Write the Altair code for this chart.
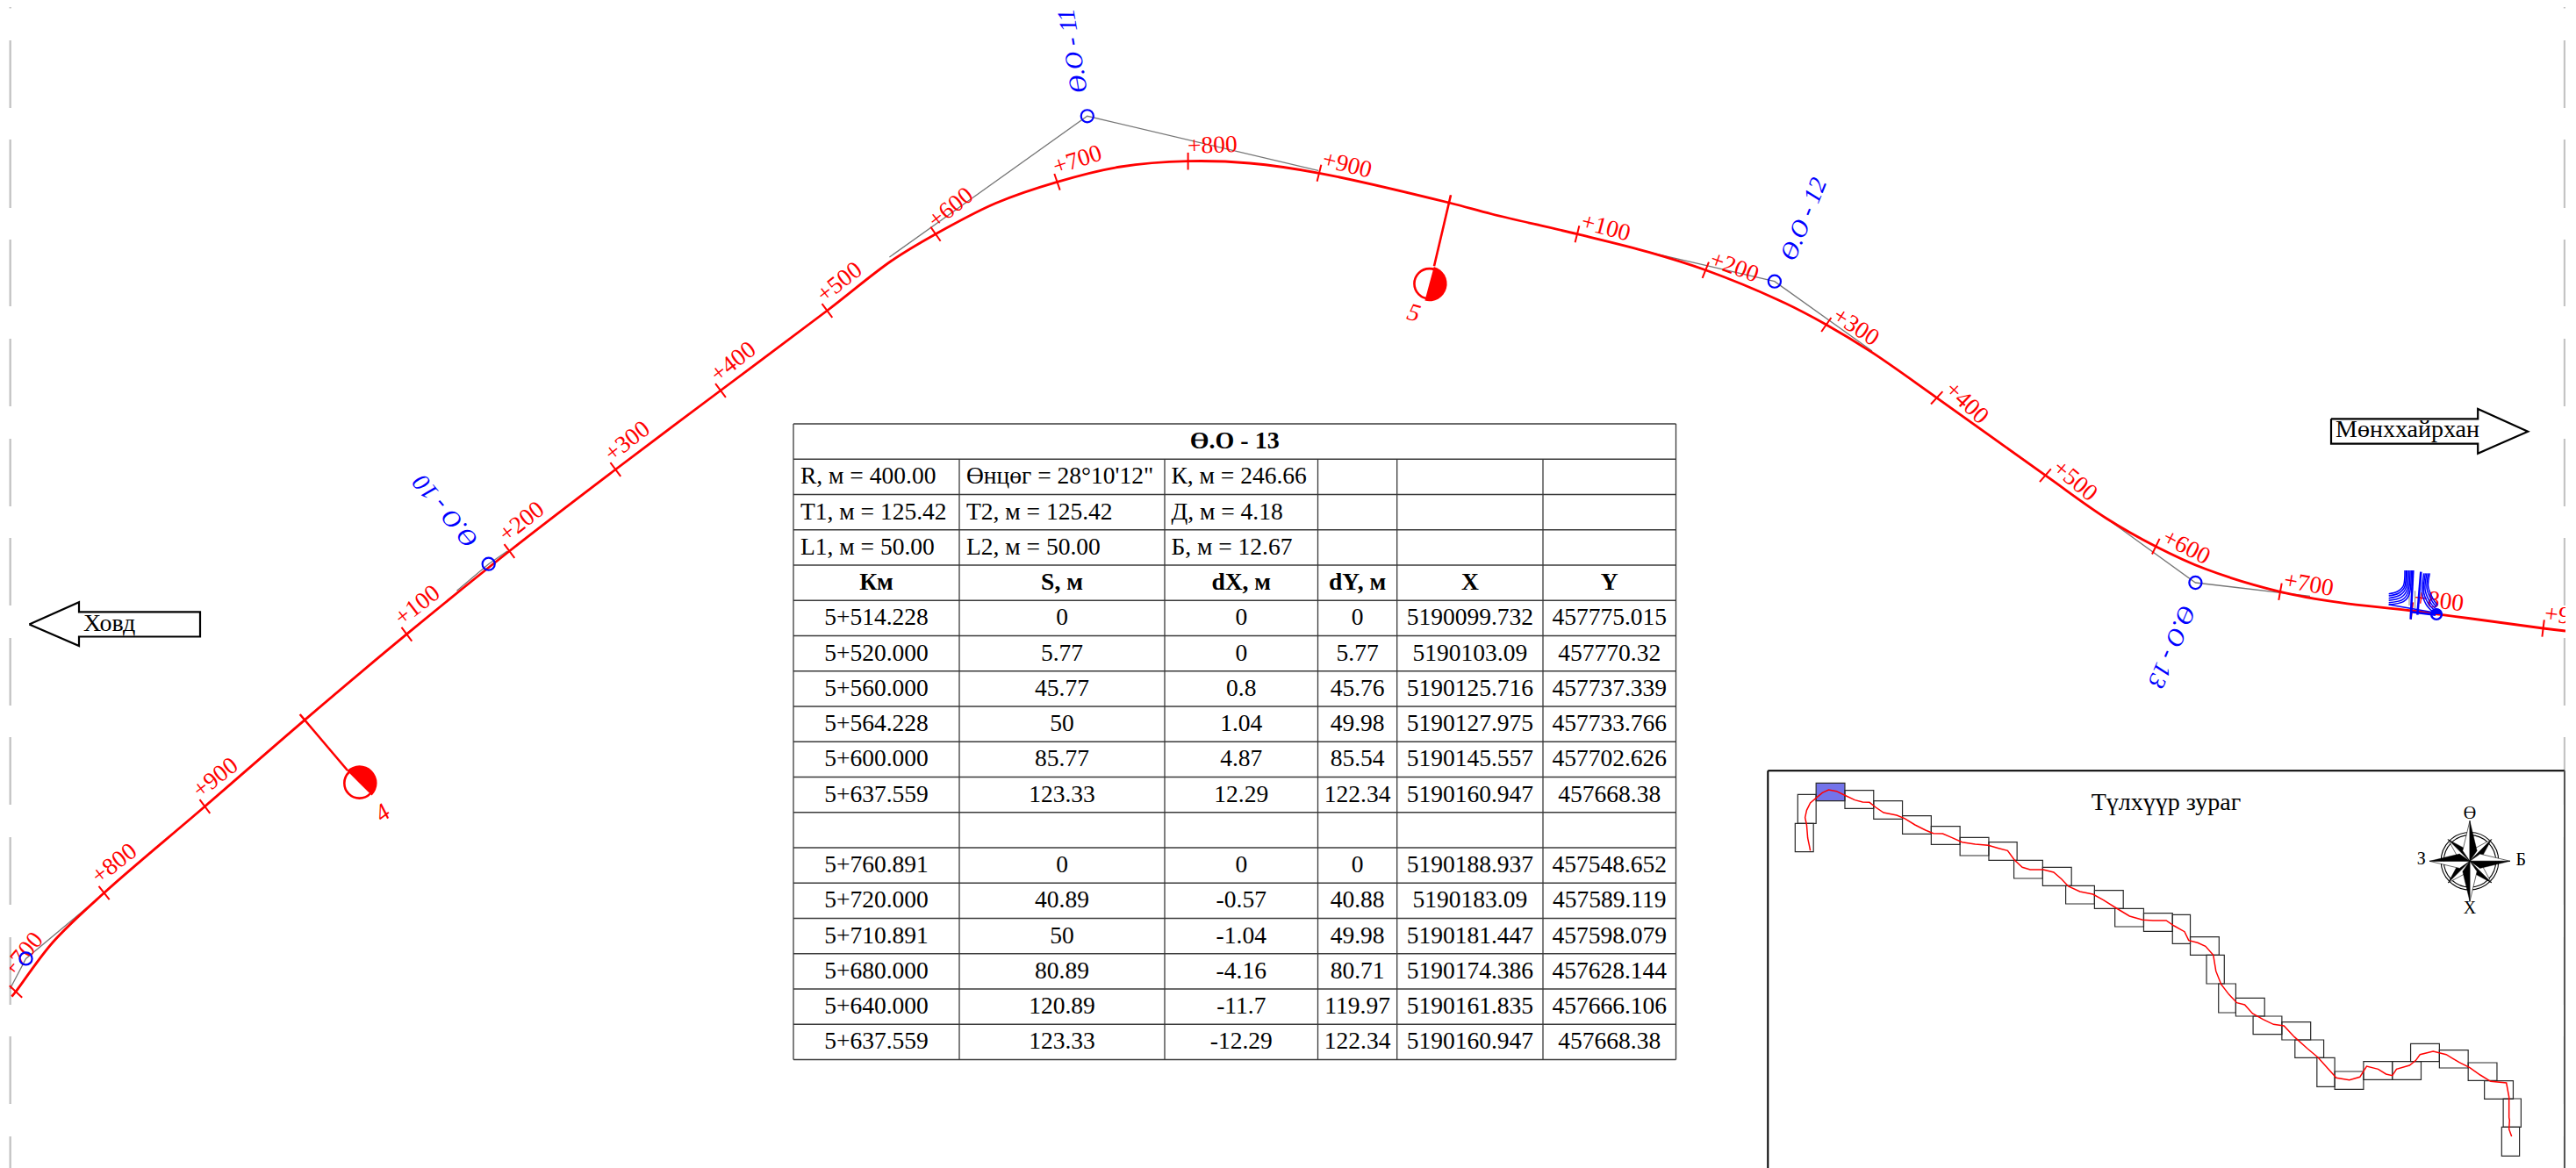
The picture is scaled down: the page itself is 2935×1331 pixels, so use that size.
import altair as alt
import numpy as np
import pandas as pd

FONT = "Liberation Serif"
RED = "#ff0000"
BLUE = "#0000ff"
GRID = "#3a3a3a"

# ---------- main road alignment (reference pixel frame) ----------
road_x = [13.4, 18, 60, 118.6, 233.4, 347, 463.4, 580.4, 701.3, 821, 942.4, 1016, 1066, 1134, 1204.5,
          1276.8, 1353.6, 1424, 1503, 1651, 1700, 1797, 1878.6, 1943.3, 2025.9, 2080.8, 2133, 2206.7,
          2330.4, 2400, 2456.3, 2512.6, 2598, 2666, 2748, 2897.6, 2923]
road_y = [1135.6, 1130, 1074, 1017.5, 919, 820.6, 722.7, 628, 535, 445, 354, 297, 266.7, 231.7, 207.3,
          190, 183.7, 186, 197.3, 231, 244, 266.7, 287.3, 307.7, 341.7, 370, 401.7, 453.3,
          541.7, 590.7, 622.7, 648.3, 674.3, 686.7, 696, 716, 719]

# stationing ticks: centre and road bearing
tick_x = [18, 118.6, 233.4, 463.4, 580.4, 701.3, 821, 942.4, 1066, 1204.5, 1353.6, 1503,
          1797, 1943.3, 2080.8, 2206.7, 2330.4, 2456.3, 2598, 2748, 2897.6]
tick_y = [1130, 1017.5, 919, 722.7, 628, 535, 445, 354, 266.7, 207.3, 183.7, 197.3,
          266.7, 307.7, 370, 453.3, 541.7, 622.7, 674.3, 696, 716]
tick_bearing = [-47, -38, -37, -37, -37, -37, -37, -37, -35, -19, 0, 14,
                14, 22, 35, 43, 41, 26, 10, 7, 7]

label_text = ["+700", "+800", "+900", "+100", "+200", "+300", "+400", "+500", "+600", "+700", "+800", "+900",
              "+100", "+200", "+300", "+400", "+500", "+600", "+700", "+800", "+900"]
label_x = [26, 130.5, 245.7, 475.8, 594.6, 715, 835.7, 956.7, 1083.5, 1227.7, 1381.3, 1534.8,
           1829.5, 1975.9, 2114.3, 2240.6, 2364, 2490.8, 2630.4, 2778.8, 2927.5]
label_y = [1088, 984.5, 886.7, 690.3, 595, 503.3, 412.7, 322, 237.3, 182.7, 166, 188.3,
           259.7, 304.7, 372.7, 459.3, 548, 623.7, 666.3, 685, 703]
label_angle = [310, 322, 322, 322, 322, 322, 322, 322, 321, 342, 358, 14,
               15, 20, 33, 43, 40, 27, 10, 7, 7]

# tangents through the PI points
tangent_id = [0, 0, 0, 1, 1, 1, 2, 2, 2, 3, 3, 3, 4, 4, 4]
tangent_x = [11.5, 29.5, 99.5, 520.5, 556.7, 578, 1013.4, 1238.8, 1502, 1878.6, 2021.9, 2133, 2400, 2501.4, 2632]
tangent_y = [1126.8, 1092.4, 1034, 673.3, 642.7, 628, 293, 132.3, 194.3, 287.3, 320.7, 400, 590.7, 664, 679.3]

pi_x = [29.5, 556.7, 1238.8, 2021.9, 2501.4]
pi_y = [1092.4, 642.7, 132.3, 320.7, 664]
pi_text = ["Ө.О - 10", "Ө.О - 11", "Ө.О - 12", "Ө.О - 13"]
pi_text_x = [508, 1223, 2055.8, 2473.4]
pi_text_y = [581.7, 58, 250, 736.7]
pi_text_angle = [230, 260.5, 292, 113]

# cross sections 4 and 5
sec_top_x = [341.7, 1653]
sec_top_y = [814, 222.3]
sec_end_x = [396, 1634]
sec_end_y = [878, 303.3]
sec_cx = [409.5, 1628.6]
sec_cy = [892.4, 323.3]
sec_from = [315, 15]
sec_to = [495, 195]
sec_lab_x = [436.3, 1610.7]
sec_lab_y = [927.2, 357.3]
sec_lab_a = [323, 15]

# direction arrows
arrow_l_x = [33.3, 90, 90, 228, 228, 90, 90, 33.3]
arrow_l_y = [711.4, 686.3, 697.3, 697.3, 725.5, 725.5, 736, 711.4]
arrow_r_x = [2656, 2823.2, 2823.2, 2880.2, 2823.2, 2823.2, 2656, 2656]
arrow_r_y = [477.3, 477.3, 466, 491.7, 516.7, 505.7, 505.7, 477.3]

# dashed sheet borders
dash_top = [8, 46, 159, 273, 386, 500, 613, 727, 840, 954, 1068, 1181, 1295]
dash_bot = [9.5, 123, 237, 349, 463, 577, 690, 804, 917, 1031, 1145, 1258, 1331]
border_x = [11.7, 2922]

# ---------- table ----------
col_x = [904, 1093, 1327, 1501.5, 1591.7, 1758, 1909.5]
row_y = [483 + 40.25 * i for i in range(19)]
title = "Ө.О - 13"
param_rows = [["R, м = 400.00", "Өнцөг = 28°10'12\"", "К, м = 246.66"],
              ["T1, м = 125.42", "T2, м = 125.42", "Д, м = 4.18"],
              ["L1, м = 50.00", "L2, м = 50.00", "Б, м = 12.67"]]
header = ["Км", "S, м", "dX, м", "dY, м", "X", "Y"]
km = ["5+514.228", "5+520.000", "5+560.000", "5+564.228", "5+600.000", "5+637.559", "",
      "5+760.891", "5+720.000", "5+710.891", "5+680.000", "5+640.000", "5+637.559"]
s_m = ["0", "5.77", "45.77", "50", "85.77", "123.33", "", "0", "40.89", "50", "80.89", "120.89", "123.33"]
dx_m = ["0", "0", "0.8", "1.04", "4.87", "12.29", "", "0", "-0.57", "-1.04", "-4.16", "-11.7", "-12.29"]
dy_m = ["0", "5.77", "45.76", "49.98", "85.54", "122.34", "", "0", "40.88", "49.98", "80.71", "119.97", "122.34"]
x_c = ["5190099.732", "5190103.09", "5190125.716", "5190127.975", "5190145.557", "5190160.947", "",
       "5190188.937", "5190183.09", "5190181.447", "5190174.386", "5190161.835", "5190160.947"]
y_c = ["457775.015", "457770.32", "457737.339", "457733.766", "457702.626", "457668.38", "",
       "457548.652", "457589.119", "457598.079", "457628.144", "457666.106", "457668.38"]

# ---------- key map (inset) in the crop frame of the zoom at (2000,860) ----------
inset_box = [2014.3, 878.3, 2922]
sheet_x1 = [76, 81, 116, 171, 226, 281, 336, 391, 446, 494, 549, 593, 648, 687, 742, 797, 831, 862, 885, 918, 951,
            1006, 1031, 1073, 1107, 1162, 1217, 1252, 1307, 1362, 1393, 1429, 1426]
sheet_y1 = [235, 136, 97, 122, 158, 209, 245, 283, 299, 361, 385, 448, 464, 526, 542, 547, 623, 685, 783, 832, 894,
            914, 975, 1036, 1083, 1049, 1049, 988, 1010, 1053, 1115, 1176, 1273]
sheet_x2 = [111, 116, 171, 226, 281, 336, 391, 446, 500, 549, 604, 648, 703, 742, 797, 831, 886, 896, 918, 973, 1006,
            1061, 1086, 1107, 1162, 1217, 1272, 1307, 1362, 1417, 1448, 1463, 1460]
sheet_y2 = [332, 235, 158, 184, 220, 271, 307, 345, 361, 423, 448, 510, 526, 588, 604, 646, 685, 783, 882, 894, 956,
            975, 1036, 1135, 1144, 1111, 1111, 1049, 1071, 1114, 1177, 1273, 1372]
key_x = [105, 103, 100, 98, 95, 98, 105, 118, 128, 140, 155, 170, 190, 205, 218, 230, 245, 270, 285, 305, 325, 340,
         358, 375, 395, 420, 445, 465, 482, 495, 510, 525, 550, 570, 585, 598, 620, 645, 665, 690, 715, 740, 760, 785,
         800, 820, 828, 845, 860, 875, 880, 890, 905, 920, 935, 950, 970, 990, 1010, 1030, 1055, 1075, 1090, 1110,
         1135, 1155, 1168, 1190, 1205, 1217, 1225, 1250, 1262, 1270, 1295, 1320, 1345, 1365, 1385, 1405, 1435, 1440,
         1440, 1441, 1440, 1445]
key_y = [328, 310, 285, 240, 215, 190, 165, 145, 130, 120, 125, 138, 155, 162, 163, 180, 198, 207, 218, 240, 258, 269,
         270, 283, 299, 306, 310, 320, 328, 360, 385, 393, 393, 402, 425, 450, 468, 477, 497, 525, 552, 565, 567, 567,
         585, 605, 635, 643, 655, 685, 740, 785, 820, 848, 855, 885, 905, 922, 927, 965, 1005, 1035, 1065, 1105,
         1112, 1102, 1065, 1075, 1092, 1097, 1075, 1062, 1045, 1025, 1014, 1025, 1052, 1070, 1095, 1117, 1122, 1170,
         1240, 1250, 1280, 1305]
ink = lambda v: 2000 + np.asarray(v, float) / 1.677
ine = lambda v: 860 + np.asarray(v, float) / 3.0

# compass rose
rose_x, rose_y = 2814, 981.3
rose_rings = [37, 33.5]
main_angle = [0, 90, 180, 270]
diag_angle = [45, 135, 225, 315]
rose_letters = ["Ө", "З", "Б", "Х"]
rose_let_x = [2814, 2758.7, 2872.3, 2814]
rose_let_y = [926.7, 979.3, 980, 1035]

# blue junction glyph, in the crop frame of the zoom at (2700,640)
junction = {
    "L1": [(120, 30), (116, 80), (95, 102), (65, 110)],
    "L2": [(124, 30), (120, 84), (99, 108), (65, 117)],
    "L3": [(128, 30), (124, 88), (104, 114), (65, 125)],
    "L4": [(133, 30), (129, 92), (108, 122), (65, 133)],
    "L5": [(138, 30), (133, 98), (112, 130), (65, 140)],
    "L6": [(142, 30), (137, 105), (115, 137), (65, 147)],
    "R1": [(205, 40), (200, 85), (215, 125), (232, 150)],
    "R2": [(200, 40), (195, 90), (210, 130), (228, 155)],
    "R3": [(195, 40), (189, 95), (204, 135), (224, 160)],
    "R4": [(190, 40), (184, 100), (198, 140), (220, 165)],
    "R5": [(185, 40), (179, 105), (192, 145), (214, 170)],
    "V1": [(148, 30), (140, 197)],
    "V2": [(175, 35), (163, 182)],
    "B1": [(65, 147), (225, 175)],
    "B2": [(140, 172), (225, 182)],
}
junction_grey = {"G1": [(135, 100), (135, 150)], "G2": [(155, 100), (155, 160)]}
junction_dot = (2776, 700)

# ---------- scales ----------
X = lambda f="x": alt.X(f"{f}:Q", scale=alt.Scale(domain=[11, 2923], nice=False, zero=False), axis=None)
Y = lambda f="y": alt.Y(f"{f}:Q", scale=alt.Scale(domain=[1331, 8], nice=False, zero=False), axis=None)


def segs(x, y, x2, y2, color, width):
    df = pd.DataFrame({"x": x, "y": y, "x2": x2, "y2": y2})
    return alt.Chart(df).mark_rule(color=color, strokeWidth=width).encode(
        x=X(), y=Y(), x2="x2:Q", y2="y2:Q")


def path(x, y, color, width, interp="linear", clip=False):
    df = pd.DataFrame({"x": x, "y": y, "i": range(len(x))})
    return alt.Chart(df).mark_line(color=color, strokeWidth=width, interpolate=interp, clip=clip).encode(
        x=X(), y=Y(), order="i:Q")


def texts(x, y, t, size, color="black", align="center", angle=None, style="normal", weight="normal", clip=False):
    df = pd.DataFrame({"x": x, "y": y, "t": t, "a": angle if angle is not None else [0] * len(x)})
    return alt.Chart(df).mark_text(font=FONT, fontSize=size, color=color, align=align, baseline="middle",
                                   fontStyle=style, fontWeight=weight, clip=clip).encode(
        x=X(), y=Y(), text="t:N", angle=alt.Angle("a:Q", scale=None))


layers = []

# sheet borders
for bx in border_x:
    layers.append(segs([bx] * len(dash_top), dash_top, [bx] * len(dash_top), dash_bot, "#c4c4c4", 2.4))

# tangents
tan_df = pd.DataFrame({"x": tangent_x, "y": tangent_y, "g": tangent_id, "i": range(len(tangent_x))})
layers.append(alt.Chart(tan_df).mark_line(color="#777777", strokeWidth=1.3).encode(
    x=X(), y=Y(), detail="g:N", order="i:Q"))

# road
layers.append(path(road_x, road_y, RED, 2.8, "catmull-rom", clip=True))

# ticks
b = np.radians(np.array(tick_bearing, float) + 90)
hl = 9.8
tx, ty = np.array(tick_x), np.array(tick_y)
layers.append(segs(tx + hl * np.cos(b), ty + hl * np.sin(b), tx - hl * np.cos(b), ty - hl * np.sin(b), RED, 2))

# station labels
layers.append(texts(label_x, label_y, label_text, 27.5, RED, angle=label_angle, clip=True))

# PI markers
layers.append(alt.Chart(pd.DataFrame({"x": pi_x, "y": pi_y})).mark_point(
    shape="circle", size=200, filled=False, color=BLUE, strokeWidth=2.2, opacity=1).encode(x=X(), y=Y()))
layers.append(texts(pi_text_x, pi_text_y, pi_text, 28, BLUE, angle=pi_text_angle, style="italic"))

# junction glyph
for pts in junction_grey.values():
    layers.append(path([2700 + p[0] / 3 for p in pts], [640 + p[1] / 3 for p in pts], "#808080", 1))
for k, pts in junction.items():
    jx = [2700 + p[0] / 3 for p in pts]
    jy = [640 + p[1] / 3 for p in pts]
    w = 2.6 if k in ("B2", "V1", "V2") else 1.5
    layers.append(path(jx, jy, BLUE, w, "cardinal" if len(pts) > 2 else "linear"))
dot = pd.DataFrame({"x": [junction_dot[0]], "y": [junction_dot[1]], "t": [270 * np.pi / 180], "t2": [450 * np.pi / 180]})
layers.append(alt.Chart(dot).mark_arc(outerRadius=6.5, innerRadius=0, color=BLUE).encode(
    x=X(), y=Y(), theta=alt.Theta("t:Q", scale=None), theta2="t2:Q"))
layers.append(alt.Chart(dot).mark_point(shape="circle", size=140, filled=False, color=BLUE, strokeWidth=2.4, opacity=1).encode(x=X(), y=Y()))

# cross sections
layers.append(segs(sec_top_x, sec_top_y, sec_end_x, sec_end_y, RED, 2.6))
sec = pd.DataFrame({"x": sec_cx, "y": sec_cy, "t": np.radians(sec_from), "t2": np.radians(sec_to)})
layers.append(alt.Chart(sec).mark_arc(outerRadius=20, innerRadius=0, color=RED).encode(
    x=X(), y=Y(), theta=alt.Theta("t:Q", scale=None), theta2="t2:Q"))
layers.append(alt.Chart(sec).mark_point(shape="circle", size=1180, filled=False, color=RED, strokeWidth=2.6, opacity=1).encode(x=X(), y=Y()))
layers.append(texts(sec_lab_x, sec_lab_y, ["4", "5"], 28, RED, angle=sec_lab_a, style="italic"))

# arrows
layers.append(path(arrow_l_x, arrow_l_y, "black", 2.2))
layers.append(path(arrow_r_x, arrow_r_y, "black", 2.2))
layers.append(texts([95], [711], ["Ховд"], 28, align="left"))
layers.append(texts([2661], [490], ["Мөнххайрхан"], 28, align="left"))

# table grid
layers.append(segs([col_x[0]] * 19, row_y, [col_x[-1]] * 19, row_y, GRID, 1.3))
layers.append(segs([col_x[0], col_x[-1]], [row_y[0]] * 2, [col_x[0], col_x[-1]], [row_y[-1]] * 2, GRID, 1.3))
inner = col_x[1:-1]
layers.append(segs(inner, [row_y[1]] * 5, inner, [row_y[-1]] * 5, GRID, 1.3))

centers_x = [(col_x[i] + col_x[i + 1]) / 2 for i in range(6)]
centers_y = [(row_y[i] + row_y[i + 1]) / 2 for i in range(18)]
layers.append(texts([(col_x[0] + col_x[-1]) / 2], [centers_y[0]], [title], 28, weight="bold"))
left_x = [912, 1101, 1334.4]
px, py, pt = [], [], []
for r, row in enumerate(param_rows):
    for c, s in enumerate(row):
        px.append(left_x[c]); py.append(centers_y[r + 1]); pt.append(s)
layers.append(texts(px, py, pt, 27.5, align="left"))
layers.append(texts(centers_x, [centers_y[4]] * 6, header, 27.5, weight="bold"))
bx, by, bt = [], [], []
for c, column in enumerate([km, s_m, dx_m, dy_m, x_c, y_c]):
    for r, s in enumerate(column):
        if s:
            bx.append(centers_x[c]); by.append(centers_y[5 + r]); bt.append(s)
layers.append(texts(bx, by, bt, 27.5))

# inset frame
layers.append(segs([inset_box[0], inset_box[0]], [inset_box[1]] * 2, [inset_box[2], inset_box[0]], [inset_box[1], 1331], "black", 2))
layers.append(segs([inset_box[2]], [inset_box[1]], [inset_box[2]], [1331], "#555555", 2))

# key-map sheets
k1 = pd.DataFrame({"x": ink(sheet_x1), "y": ine(sheet_y1), "x2": ink(sheet_x2), "y2": ine(sheet_y2)})
highlight = k1.iloc[[2]]
layers.append(alt.Chart(highlight).mark_rect(color="#5a5ae6", opacity=0.85).encode(
    x=X(), y=Y(), x2="x2:Q", y2="y2:Q"))
layers.append(alt.Chart(k1).mark_rect(fillOpacity=0, stroke="#2a2a2a", strokeWidth=1.2).encode(
    x=X(), y=Y(), x2="x2:Q", y2="y2:Q"))
layers.append(path(ink(key_x), ine(key_y), RED, 1.5))
layers.append(texts([2468], [915], ["Түлхүүр зураг"], 28))

# compass rose
rose = pd.DataFrame({"x": [rose_x], "y": [rose_y]})
for rr in rose_rings:
    layers.append(alt.Chart(rose).mark_point(
        shape="circle", size=(2 * rr) ** 2 * np.pi / 4, filled=False, color="black", strokeWidth=1.1, opacity=1).encode(x=X(), y=Y()))


def pol(r, deg):
    a = np.radians(deg)
    return f"{r * np.sin(a):.3f},{-r * np.cos(a):.3f}"


def spikes(angles, length, spread, side):
    return "".join(f"M0,0L{pol(length, a)}L{pol(0.31, a + side * spread)}Z" for a in angles)


rose_size = (2 * 46) ** 2
for angles, length, spread in [(diag_angle, 0.76, 28), (main_angle, 1.0, 35)]:
    layers.append(alt.Chart(rose).mark_point(shape=spikes(angles, length, spread, -1), size=rose_size, filled=True,
                                             fill="white", stroke="black", strokeWidth=0.6, opacity=1).encode(x=X(), y=Y()))
    layers.append(alt.Chart(rose).mark_point(shape=spikes(angles, length, spread, 1), size=rose_size, filled=True,
                                             fill="black", stroke="black", strokeWidth=0.4, opacity=1).encode(x=X(), y=Y()))
layers.append(texts(rose_let_x, rose_let_y, rose_letters, 20))

chart = alt.layer(*layers).properties(
    width=2912, height=1323, padding={"left": 3, "top": 0, "right": 0, "bottom": 0},
    autosize=alt.AutoSizeParams(type="none"), background="white",
).configure_view(stroke=None)

chart.save("out.html", embed_options={"renderer": "svg", "actions": False})
